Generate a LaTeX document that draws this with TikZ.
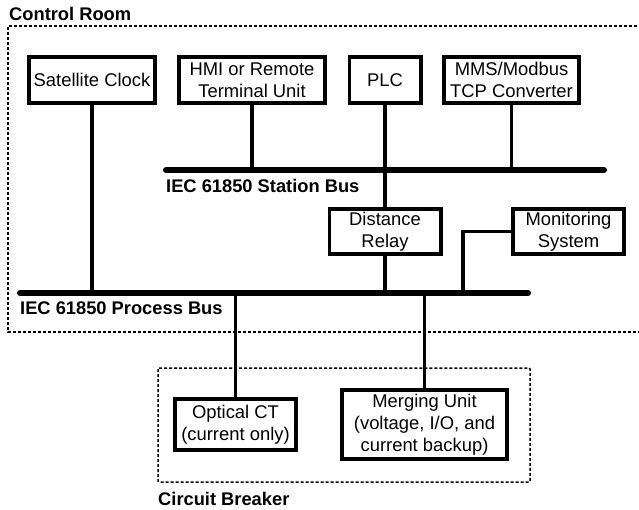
\documentclass[tikz,border=0pt]{standalone}
\usepackage{fontspec}
\setmainfont{Liberation Sans}
\begin{document}
\begin{tikzpicture}[x=1pt,y=-1pt,
  box/.style={draw=black, line width=3.8pt, align=center, inner sep=0pt,
    font=\fontsize{18.4}{22}\selectfont},
  wire/.style={line width=3.8pt},
  bus/.style={line width=6pt, line cap=round},
  zone/.style={line width=1.5pt, dash pattern=on 3pt off 2pt},
  title/.style={font=\bfseries\fontsize{18.3}{21}\selectfont, anchor=west, inner sep=0pt}]
\useasboundingbox (0,0) rectangle (639,510);

% zones
\draw[zone] (642,26) -- (8,26) -- (8,332) -- (642,332);
\node[title] (crlab) at (9,14) {Control Room};
\draw[zone, rounded corners=1pt] (158,368) rectangle (530,482);
\node[title] (cblab) at (158,499) {Circuit Breaker};

% buses
\coordinate (sbl) at (166,170);
\coordinate (sbr) at (604,170);
\coordinate (pbl) at (20,293);
\coordinate (pbr) at (528,293);
\draw[bus] (sbl) -- (sbr);
\draw[bus] (pbl) -- (pbr);
\node[title] (sblab) at (166,186) {IEC 61850 Station Bus};
\node[title] (pblab) at (20,308) {IEC 61850 Process Bus};

% boxes
\node[box, minimum width=126.2pt, minimum height=46.2pt] (sat) at (92,80) {Satellite Clock};
\node[box, minimum width=146.2pt, minimum height=46.2pt] (hmi) at (252,80) {HMI or Remote\\Terminal Unit};
\node[box, minimum width=71.2pt, minimum height=46.2pt] (plc) at (385,80) {PLC};
\node[box, minimum width=135.2pt, minimum height=46.2pt] (mms) at (511.5,80) {MMS/Modbus\\TCP Converter};
\node[box, minimum width=111.2pt, minimum height=45.2pt] (rel) at (385,231.5) {Distance\\Relay};
\node[box, minimum width=111.2pt, minimum height=45.2pt] (mon) at (568.5,231.5) {Monitoring\\System};
\node[box, minimum width=121.2pt, minimum height=51.2pt] (oct) at (235.5,424.5) {Optical CT\\(current only)};
\node[box, minimum width=165.2pt, minimum height=69.2pt] (mu) at (424.5,424.5) {Merging Unit\\(voltage, I/O, and\\current backup)};

% connectors
\coordinate (monj) at (463,293);
\draw[wire] (sat.south) -- (sat.south |- pbl);
\draw[wire] (hmi.south) -- (hmi.south |- sbl);
\draw[wire] (mms.south) -- (mms.south |- sbl);
\draw[wire] (plc.south) -- (rel.north);
\draw[wire] (rel.south) -- (rel.south |- pbl);
\draw[wire] (mon.west) -| (monj);
\draw[wire] (oct.north |- pbl) -- (oct.north);
\draw[wire] (mu.north |- pbl) -- (mu.north);
\end{tikzpicture}
\end{document}
